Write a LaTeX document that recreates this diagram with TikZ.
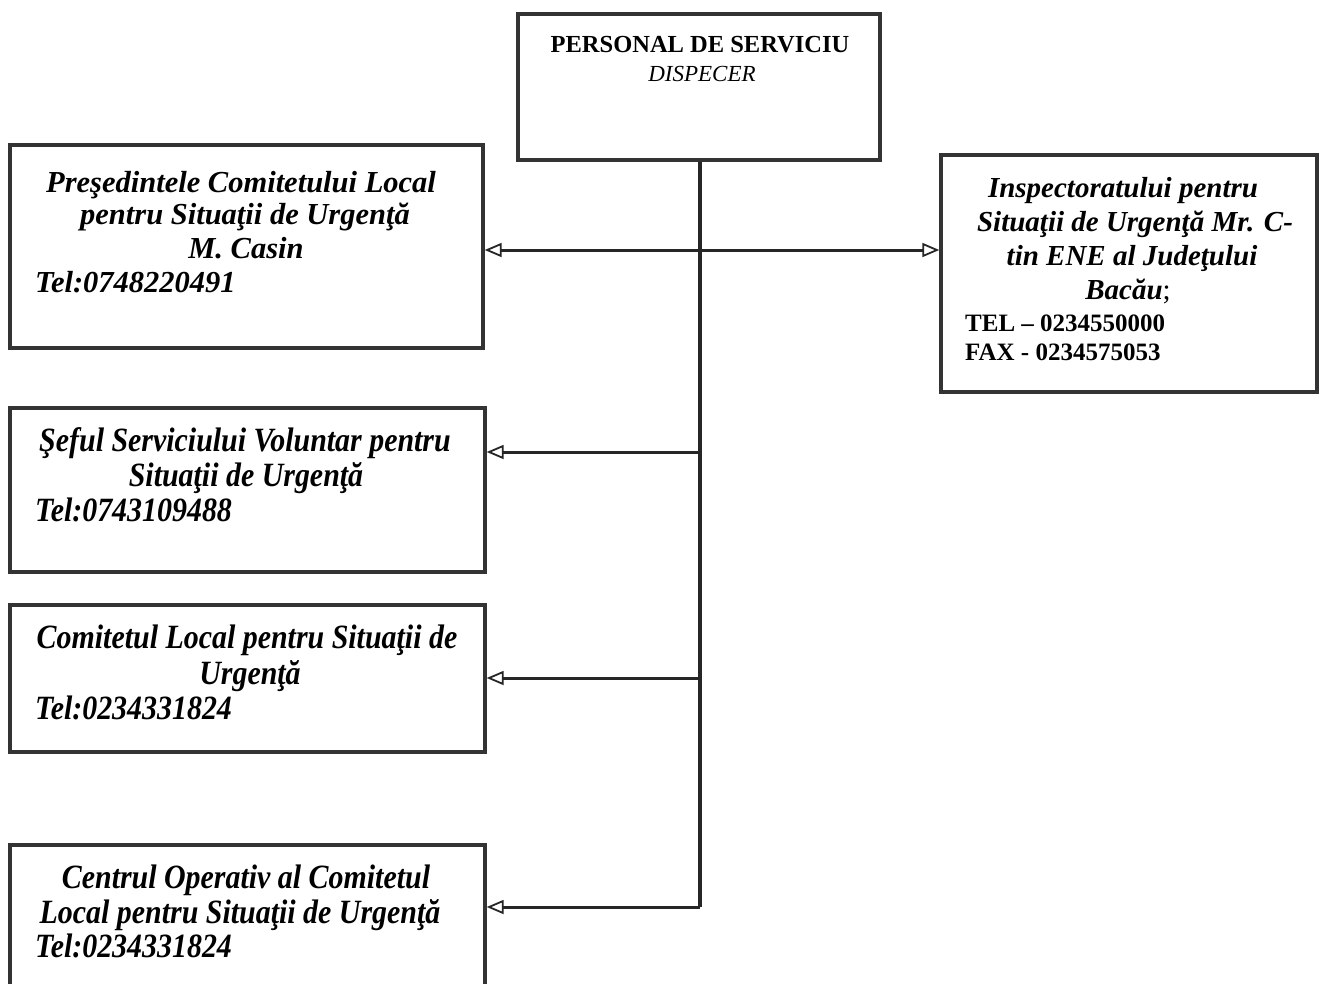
\documentclass[tikz,border=0pt]{standalone}
\usepackage{fontspec}
\setmainfont{Liberation Serif}
\newfontfamily\narrowserif{Liberation Serif}[FakeStretch=0.88]
\usetikzlibrary{arrows.meta}
\begin{document}
\begin{tikzpicture}[x=1pt,y=-1pt,
  box/.style={draw=black!80, line width=3.4pt, rectangle, inner sep=0pt},
  conn/.style={draw=black!85, line width=3pt},
  tipl/.style={{Triangle[open,length=17pt,width=14pt,line width=1.8pt]}-},
  tipb/.style={{Triangle[open,length=17pt,width=14pt,line width=1.8pt]}-{Triangle[open,length=17pt,width=14pt,line width=1.8pt]}},
  tx/.style={anchor=base, inner sep=0pt, font=\fontsize{30.5}{34}\selectfont\bfseries\itshape},
  txw/.style={tx, anchor=base west},
  rx/.style={anchor=base, inner sep=0pt, font=\fontsize{29}{34}\selectfont\bfseries\itshape},
  nx/.style={anchor=base, inner sep=0pt, font=\narrowserif\fontsize{34}{38}\selectfont\bfseries\itshape},
  nxw/.style={nx, anchor=base west},
  up/.style={anchor=base, inner sep=0pt, font=\fontsize{24.5}{28}\selectfont\bfseries},
  upw/.style={up, anchor=base west, font=\fontsize{25}{28}\selectfont\bfseries}
]
\clip (0,0) rectangle (1319,983);
\fill[white] (0,0) rectangle (1319,983);

% boxes
\node[box, minimum width=362pt, minimum height=146pt] (top) at (699,87) {};
\node[box, minimum width=473pt, minimum height=203pt] (b1) at (246.5,246.5) {};
\node[box, minimum width=376pt, minimum height=237pt] (rb) at (1129,273.5) {};
\node[box, minimum width=475pt, minimum height=164pt] (b2) at (247.5,490) {};
\node[box, minimum width=475pt, minimum height=147pt] (b3) at (247.5,678.5) {};
\node[box, minimum width=475pt, minimum height=155pt] (b4) at (247.5,922.5) {};

% texts: top box
\node[up] (t1) at (700,52) {PERSONAL DE SERVICIU};
\node[anchor=base, inner sep=0pt, font=\fontsize{23}{28}\selectfont\itshape] (t2) at (702,81) {DISPECER};

% box 1
\node[tx] (a1) at (241,192) {Preşedintele Comitetului Local};
\node[tx] (a2) at (245,224) {pentru Situaţii de Urgenţă};
\node[tx] (a3) at (246,258) {M. Casin};
\node[txw] (a4) at (35,292) {Tel:0748220491};

% right box
\node[rx] (r1) at (1123,197) {Inspectoratului pentru};
\node[rx] (r2) at (1135,231) {Situaţii de Urgenţă Mr. C-};
\node[rx] (r3) at (1132,265) {tin ENE al Judeţului};
\node[rx] (r4) at (1128,299) {Bacău{\upshape\mdseries;}};
\node[upw] (r5) at (965,331) {TEL – 0234550000};
\node[upw] (r6) at (965,360) {FAX - 0234575053};

% box 2
\node[nx] (c1) at (245,451) {Şeful Serviciului Voluntar pentru};
\node[nx] (c2) at (246,486) {Situaţii de Urgenţă};
\node[nxw] (c3) at (35,521) {Tel:0743109488};

% box 3
\node[nx] (d1) at (247,648) {Comitetul Local pentru Situaţii de};
\node[nx] (d2) at (250,684) {Urgenţă};
\node[nxw] (d3) at (35,719) {Tel:0234331824};

% box 4
\node[nx] (e1) at (246,888) {Centrul Operativ al Comitetul};
\node[nx] (e2) at (240,923) {Local pentru Situaţii de Urgenţă};
\node[nxw] (e3) at (35,957) {Tel:0234331824};

% connectors
\coordinate (j1) at (700,250);
\coordinate (j2) at (700,452);
\coordinate (j3) at (700,678);
\coordinate (j4) at (700,907);
\draw[conn, line width=3.2pt] (top.south -| j1) -- (j4);
\draw[conn, tipb] (j1 -| b1.east) -- (j1 -| rb.west);
\draw[conn, tipl] (j2 -| b2.east) -- (j2);
\draw[conn, tipl] (j3 -| b3.east) -- (j3);
\draw[conn, tipl] (j4 -| b4.east) -- (j4);
\end{tikzpicture}
\end{document}
